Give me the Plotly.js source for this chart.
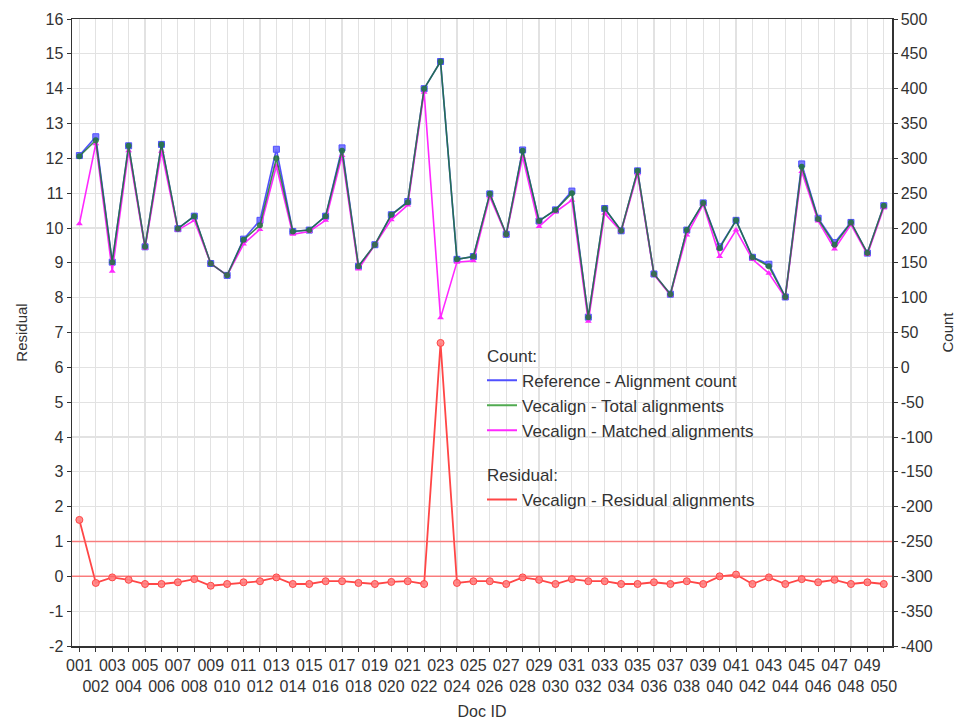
<!DOCTYPE html>
<html>
<head>
<meta charset="utf-8">
<script src="https://cdn.plot.ly/plotly-3.0.1.min.js"></script>
<style>html,body{margin:0;padding:0;background:#fff;}#chart{width:968px;height:724px;}</style>
</head>
<body>
<div id="chart"></div>
<script>
const docIds = ["001","002","003","004","005","006","007","008","009","010",
"011","012","013","014","015","016","017","018","019","020",
"021","022","023","024","025","026","027","028","029","030",
"031","032","033","034","035","036","037","038","039","040",
"041","042","043","044","045","046","047","048","049","050"];

const referenceCount = [304,331,151,318,173,320,199,217,149,132,
184,211,313,195,197,217,315,145,176,219,
238,400,439,155,159,249,191,312,210,226,
253,72,228,196,282,134,105,197,236,173,
211,158,148,101,292,214,179,208,164,232];

const totalCount = [303,326,151,318,173,320,199,217,149,132,
183,204,300,195,197,217,311,145,176,219,
237,400,439,155,159,249,191,311,210,226,
250,72,228,196,282,134,105,197,236,171,
211,158,145,101,288,213,176,208,164,232];

const matchedCount = [206,321,138,311,171,310,197,211,149,132,
177,198,289,191,195,211,304,141,176,212,
233,395,71,151,153,245,190,302,202,223,
240,66,221,195,278,133,104,190,234,159,
197,155,135,100,281,210,170,205,162,229];

const residual = [1.62,-0.19,-0.03,-0.10,-0.22,-0.22,-0.17,-0.08,-0.27,-0.22,
-0.17,-0.14,-0.03,-0.22,-0.22,-0.14,-0.14,-0.19,-0.22,-0.16,
-0.14,-0.22,6.70,-0.19,-0.14,-0.14,-0.22,-0.03,-0.10,-0.22,
-0.08,-0.14,-0.14,-0.22,-0.22,-0.17,-0.22,-0.14,-0.22,0.00,
0.05,-0.22,-0.03,-0.22,-0.08,-0.17,-0.10,-0.22,-0.17,-0.22];

const thresholds = [0, 1];

const residualTicks = [-2,-1,0,1,2,3,4,5,6,7,8,9,10,11,12,13,14,15,16];
const countTicks = [-400,-350,-300,-250,-200,-150,-100,-50,0,50,100,150,200,250,300,350,400,450,500];

const xIdx = docIds.map((d, i) => i);
const tickText = docIds.map((d, i) => i % 2 === 0 ? d + "<br> " : " <br>" + d);

const cBlue = "rgb(80,80,255)";
const cGreen = "rgb(30,115,55)";
const cGreenLegend = "rgb(80,170,80)";
const cMagenta = "rgb(255,40,255)";
const cRed = "rgb(255,70,70)";

const traces = [
  {x: xIdx, y: referenceCount, yaxis: "y2", mode: "lines+markers", showlegend: false,
   line: {color: cBlue, width: 1.6}, marker: {symbol: "square", size: 6, color: "rgba(110,110,255,0.9)", line: {color: cBlue, width: 1}}},
  {x: xIdx, y: matchedCount, yaxis: "y2", mode: "lines+markers", showlegend: false,
   line: {color: cMagenta, width: 1.6}, marker: {symbol: "triangle-up", size: 6, color: cMagenta}},
  {x: xIdx, y: totalCount, yaxis: "y2", mode: "lines+markers", showlegend: false, opacity: 0.85,
   line: {color: cGreen, width: 1.6}, marker: {symbol: "circle", size: 6, color: cGreen}},
  {x: xIdx, y: residual, yaxis: "y", mode: "lines+markers", showlegend: false,
   line: {color: cRed, width: 1.8}, marker: {symbol: "circle", size: 7, color: "rgba(255,130,130,0.9)", line: {color: cRed, width: 1}}},
  {x: [null], y: [null], yaxis: "y2", mode: "lines", name: "Reference - Alignment count",
   legendgroup: "count", legendgrouptitle: {text: "Count:"}, line: {color: cBlue, width: 2}},
  {x: [null], y: [null], yaxis: "y2", mode: "lines", name: "Vecalign - Total alignments",
   legendgroup: "count", line: {color: cGreenLegend, width: 2}},
  {x: [null], y: [null], yaxis: "y2", mode: "lines", name: "Vecalign - Matched alignments",
   legendgroup: "count", line: {color: cMagenta, width: 2}},
  {x: [null], y: [null], yaxis: "y", mode: "lines", name: "Vecalign - Residual alignments",
   legendgroup: "resid", legendgrouptitle: {text: "Residual:"}, line: {color: cRed, width: 2}}
];

const shapes = thresholds.map(v => ({
  type: "line", xref: "paper", x0: 0, x1: 1, yref: "y", y0: v, y1: v,
  line: {color: "rgba(255,90,90,0.75)", width: 1.5}, layer: "above"
}));

const fam = "Liberation Sans, Arial, sans-serif";
const txt = "#333";
const hy = v => String(v).replace("\u2212", "-");

const layout = {
  width: 968, height: 724,
  margin: {l: 72, r: 76, t: 19, b: 78},
  paper_bgcolor: "#fff", plot_bgcolor: "#fff",
  font: {family: fam, size: 16, color: txt},
  showlegend: true,
  legend: {x: 0.5, y: 0.492, xanchor: "left", yanchor: "top", bgcolor: "rgba(0,0,0,0)",
    font: {family: fam, size: 17, color: txt},
    grouptitlefont: {family: fam, size: 17, color: txt},
    tracegroupgap: 19, itemwidth: 30, traceorder: "grouped"},
  xaxis: {
    range: [-0.45, 49.5], tickmode: "array", tickvals: xIdx, ticktext: tickText, tickangle: 0,
    showgrid: true, gridcolor: "#e2e2e2", gridwidth: 1.2, zeroline: false,
    showline: true, linecolor: txt, linewidth: 1.5, mirror: true,
    ticks: "outside", ticklen: 4, tickcolor: txt,
    tickfont: {family: fam, size: 16, color: txt},
    title: {text: "Doc ID", font: {family: fam, size: 16, color: txt}, standoff: 12}
  },
  yaxis: {
    range: [-2, 16], tickmode: "array", tickvals: residualTicks, ticktext: residualTicks.map(hy),
    showgrid: true, gridcolor: "#e2e2e2", gridwidth: 1.2, zeroline: false,
    showline: true, linecolor: txt, linewidth: 1.5,
    ticks: "outside", ticklen: 4, tickcolor: txt,
    tickfont: {family: fam, size: 16, color: txt},
    title: {text: "Residual", font: {family: fam, size: 15, color: txt}, standoff: 14}
  },
  yaxis2: {
    range: [-400, 500], tickmode: "array", tickvals: countTicks, ticktext: countTicks.map(hy),
    overlaying: "y", side: "right", showgrid: false, zeroline: false,
    showline: true, linecolor: txt, linewidth: 1.5,
    ticks: "outside", ticklen: 4, tickcolor: txt,
    tickfont: {family: fam, size: 16, color: txt},
    title: {text: "Count", font: {family: fam, size: 15, color: txt}, standoff: 10}
  },
  shapes: shapes
};

Plotly.newPlot("chart", traces, layout, {displayModeBar: false, staticPlot: true});
</script>
</body>
</html>
